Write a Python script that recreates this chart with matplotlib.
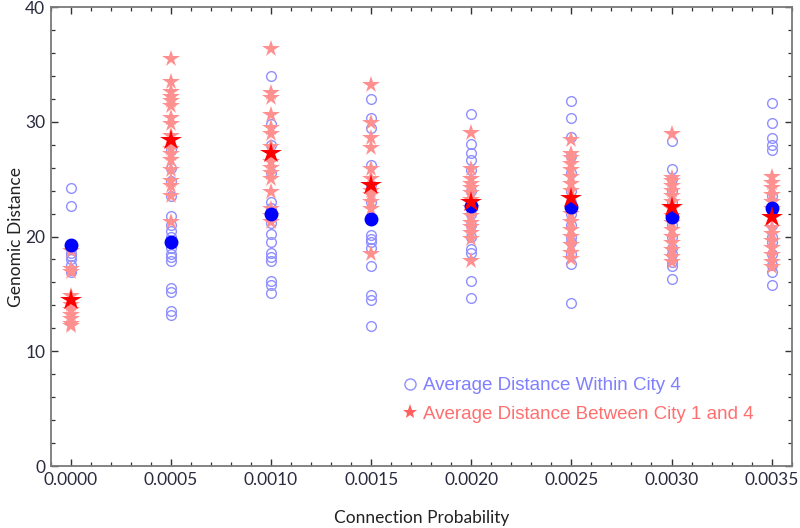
import matplotlib
matplotlib.use("Agg")
import matplotlib.pyplot as plt
from matplotlib.lines import Line2D
from matplotlib.ticker import MultipleLocator, FormatStrFormatter

# ── Data ─────────────────────────────────────────────────────────────────────
probs = [0.0000, 0.0005, 0.0010, 0.0015, 0.0020, 0.0025, 0.0030, 0.0035]

within_city4 = [
    [24.2, 22.7, 19.0, 18.6, 18.3, 18.0, 17.5, 17.1, 16.9],
    [27.5, 26.0, 24.8, 23.5, 21.8, 21.0, 20.5, 20.0, 19.0, 18.5, 18.2, 17.9, 15.5, 15.2, 13.5, 13.2],
    [34.0, 29.8, 28.0, 25.5, 23.0, 22.5, 21.2, 20.2, 19.5, 18.6, 18.2, 17.9, 16.1, 15.8, 15.1],
    [32.0, 30.3, 29.5, 26.2, 24.5, 23.0, 20.1, 19.8, 19.5, 19.0, 17.4, 14.9, 14.5, 12.2],
    [30.7, 28.1, 27.3, 26.7, 25.8, 24.0, 23.0, 22.0, 21.0, 20.0, 18.9, 18.6, 16.1, 14.6],
    [31.8, 30.3, 28.7, 27.0, 25.5, 24.0, 23.0, 22.0, 21.0, 20.0, 19.5, 18.5, 17.6, 14.2],
    [28.3, 25.9, 25.0, 24.0, 23.0, 22.0, 21.0, 20.0, 19.0, 18.5, 17.8, 17.4, 16.3],
    [31.6, 29.9, 28.6, 28.0, 27.5, 23.5, 22.0, 21.0, 20.0, 19.5, 18.5, 17.5, 16.9, 15.8],
]

between_city14 = [
    [18.7, 17.2, 16.9, 14.8, 14.0, 13.6, 13.2, 12.8, 12.4, 12.2],
    [35.5, 33.5, 32.6, 32.2, 31.8, 31.4, 30.3, 29.8, 28.8, 27.6, 27.2, 26.7, 25.8, 24.8, 24.4, 23.5, 21.3],
    [36.3, 32.5, 32.1, 30.6, 29.5, 28.9, 27.8, 26.5, 26.0, 25.5, 25.0, 23.9, 22.4, 21.8, 21.3],
    [33.2, 29.9, 28.6, 27.7, 25.9, 25.0, 24.0, 23.6, 23.0, 22.4, 18.5],
    [29.0, 25.9, 25.0, 24.6, 24.2, 23.8, 23.2, 22.5, 21.8, 21.2, 20.8, 20.3, 19.8, 17.9],
    [28.4, 27.2, 26.8, 26.3, 25.8, 25.2, 24.6, 24.0, 23.4, 22.0, 21.3, 20.6, 20.0, 19.3, 18.6, 18.0],
    [28.9, 25.1, 24.8, 24.4, 24.0, 23.5, 23.0, 22.4, 21.8, 21.2, 20.6, 20.0, 19.4, 18.8, 18.2, 17.8],
    [25.2, 24.7, 24.2, 23.6, 23.0, 22.4, 21.6, 20.7, 20.2, 19.6, 19.0, 18.4, 17.8, 17.3],
]

within_mean = [19.3, 19.5, 22.0, 21.5, 22.7, 22.6, 21.7, 22.5]
between_mean = [14.5, 28.4, 27.3, 24.5, 23.0, 23.4, 22.6, 21.7]

legend_labels = ["Average Distance Within City 4", "Average Distance Between City 1 and 4"]

# ── Styling ──────────────────────────────────────────────────────────────────
BLUE_LIGHT = "#9090FF"
BLUE = "#0000FF"
PINK = "#FF9090"
RED = "#FF0000"
FRAME = "#7a7a7a"
TICK_TEXT = "#2b2b3f"

fig = plt.figure(figsize=(8.0, 5.28), dpi=100)
ax = fig.add_axes([0.0634, 0.1174, 0.9262, 0.8693])

for x, vals in zip(probs, within_city4):
    ax.plot([x] * len(vals), vals, linestyle="none", marker="o", markersize=7,
            markerfacecolor="none", markeredgecolor=BLUE_LIGHT, markeredgewidth=1.0, zorder=2)

for x, vals in zip(probs, between_city14):
    ax.plot([x] * len(vals), vals, linestyle="none", marker="*", markersize=13,
            color=PINK, markeredgewidth=0, zorder=3)

ax.plot(probs, within_mean, linestyle="none", marker="o", markersize=9, color=BLUE, zorder=4)
ax.plot(probs, between_mean, linestyle="none", marker="*", markersize=16,
        color=RED, markeredgewidth=0, zorder=5)

# ── Axes ─────────────────────────────────────────────────────────────────────
ax.set_xlim(-0.0001, 0.0036)
ax.set_ylim(0, 40)
ax.xaxis.set_major_locator(MultipleLocator(0.0005))
ax.xaxis.set_minor_locator(MultipleLocator(0.0001))
ax.xaxis.set_major_formatter(FormatStrFormatter("%.4f"))
ax.yaxis.set_major_locator(MultipleLocator(10))
ax.yaxis.set_minor_locator(MultipleLocator(2))

ax.tick_params(which="both", direction="in", top=True, right=True, color="#333333",
               labelcolor=TICK_TEXT, labelsize=12.5, pad=4)
ax.tick_params(which="major", length=5, width=1.0)
ax.tick_params(which="minor", length=3, width=0.9)
for lab in ax.get_xticklabels() + ax.get_yticklabels():
    lab.set_family("Lato")

for sp in ax.spines.values():
    sp.set_color(FRAME)
    sp.set_linewidth(1.3)

ax.set_xlabel("Connection Probability", family="Lato", fontsize=12.5, color="#222222", labelpad=16)
ax.set_ylabel("Genomic Distance", family="Lato", fontsize=12.5, color="#222222", labelpad=1)

handles = [
    Line2D([], [], linestyle="none", marker="o", markersize=8, markerfacecolor="none",
           markeredgecolor=BLUE_LIGHT, markeredgewidth=1.0),
    Line2D([], [], linestyle="none", marker="*", markersize=11, color="#FF6060",
           markeredgewidth=0),
]
leg = ax.legend(handles, legend_labels, loc="lower left", bbox_to_anchor=(0.455, 0.058),
                frameon=False, handlelength=0.6, handletextpad=0.4, labelspacing=0.6,
                prop={"family": "Liberation Sans", "size": 13.5},
                labelcolor=["#7f7fff", "#ff6f6f"])

fig.savefig("out.png", dpi=100)
